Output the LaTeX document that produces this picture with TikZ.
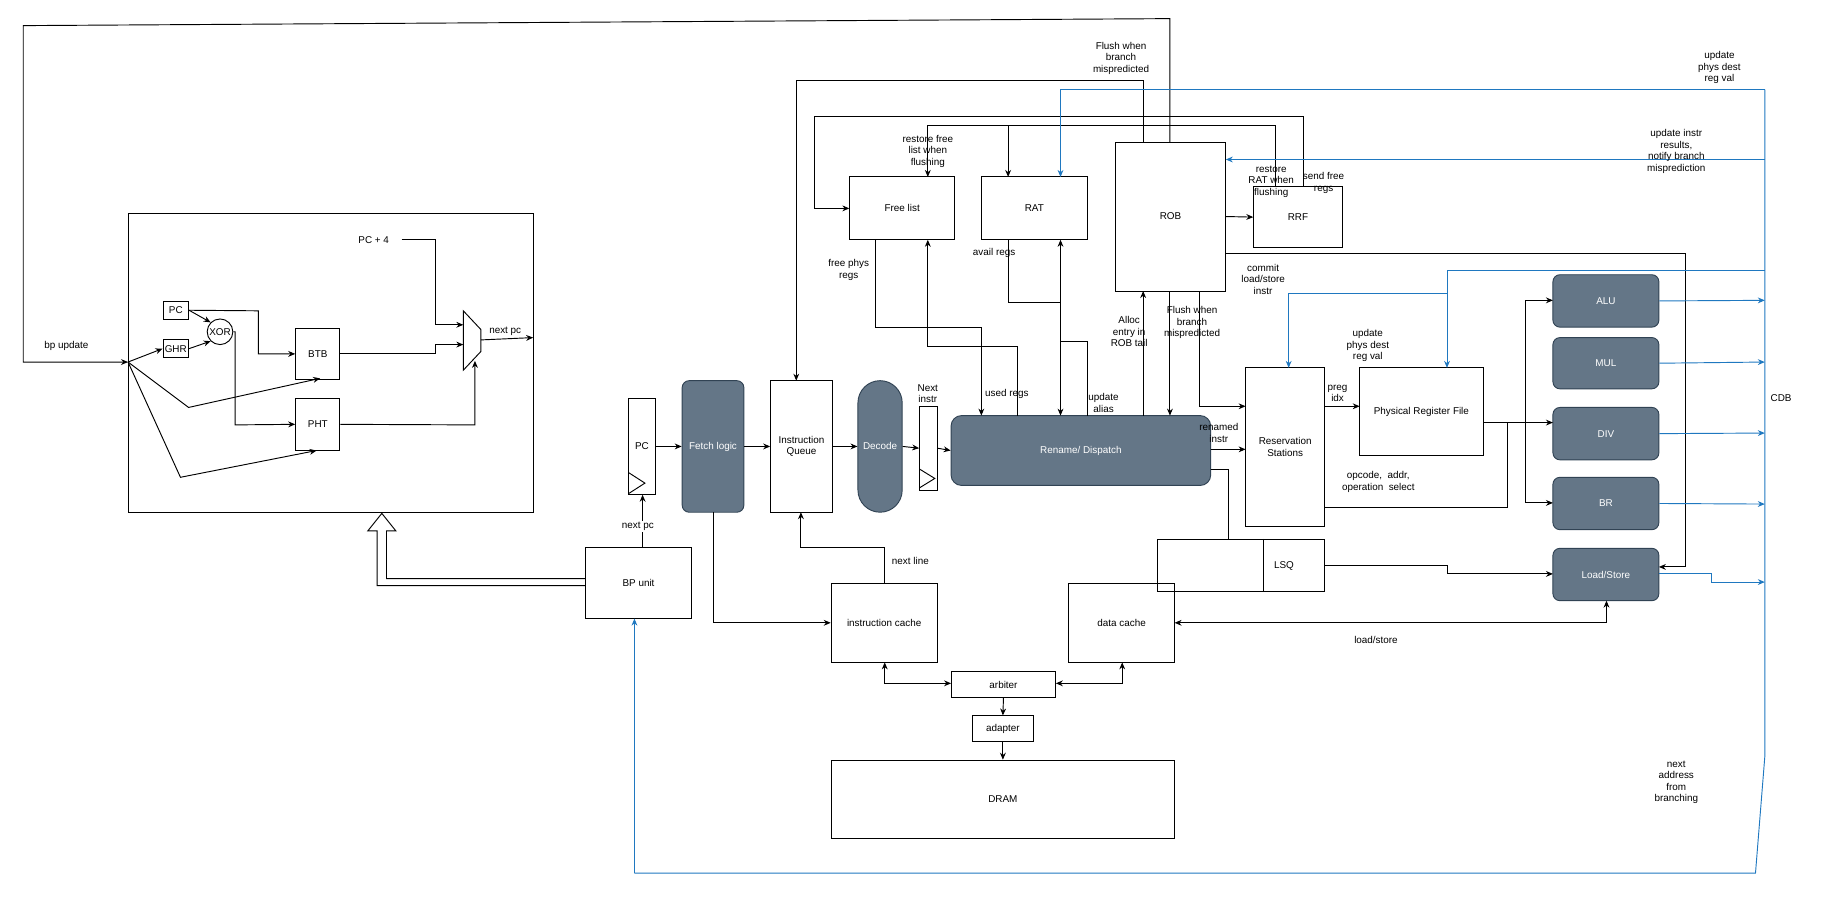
\documentclass[tikz,border=0pt]{standalone}
\usepackage{fontspec}
\setmainfont{Liberation Sans}
\usetikzlibrary{arrows.meta,calc}
\definecolor{dk}{HTML}{647687}
\definecolor{dkl}{HTML}{314354}
\definecolor{bl}{HTML}{1F78C0}
\tikzset{
  box/.style={draw,line width=0.8pt,inner sep=1pt,align=center,font=\fontsize{8.5}{10}\selectfont},
  dark/.style={fill=dk,draw=dkl,rounded corners=6pt,text=white},
  lbl/.style={align=center,font=\fontsize{8.5}{10}\selectfont,inner sep=1pt},
  ar/.style={-{Stealth[length=6pt,width=5pt]},line width=0.8pt},
  dar/.style={{Stealth[length=6pt,width=5pt]}-{Stealth[length=6pt,width=5pt]},line width=0.8pt},
  ln/.style={line width=0.8pt},
  bar/.style={ar,draw=bl},
  bln/.style={ln,draw=bl}
}
\newcommand\bx[7][]{\node[box,#1,minimum width={(#5-#3)*1pt},minimum height={(#6-#4)*1pt}] (#2) at ({(#3+#5)/2},{(#4+#6)/2}) {#7};}
\begin{document}
\begin{tikzpicture}[x=1pt,y=-1pt]
\useasboundingbox (0,0) rectangle (1566,787);
% BP box
\bx{bp}{110}{183}{458}{440}{}
\bx{pc0}{140}{259}{162}{274}{PC}
\bx{ghr}{140}{292}{162}{307}{GHR}
\node[draw,circle,ln,minimum size=22pt,inner sep=0pt,font=\fontsize{8.5}{10}\selectfont] (xor) at (189,285) {XOR};
\bx{btb}{254}{282}{292}{326}{BTB}
\bx{pht}{254}{342}{292}{387}{PHT}
\draw[ln] (398,267) coordinate (mA) -- (413,283) -- (413,302) coordinate (mO) -- (398,318) -- cycle;
\node[lbl] (pc4) at (321,206) {PC + 4};
\coordinate (bpin) at (110,311);
\draw[ar] (345,206) -- (374,206) -- (374,279) -- (398,279);
\draw[ar] (btb.east) -- (374,304) -- (374,296) -- (398,296);
\draw[ar] (pht.east) -- (408,365) -- (408,310);
\draw[ar] (413,292) -- (458,290);
\node[lbl] (npc) at (434,285) {next pc};
\draw[ar] (pc0.east) -- (xor.north west);
\draw[ar] (ghr.east) -- (xor.south west);
\draw[ar] (pc0.east) -- (222,267) -- (222,304) -- (btb.west);
\draw[ar] (xor.east) -- (202,285) -- (202,365) -- (pht.west);
\draw[ar] (bpin) -- (ghr.west);
\draw[ar] (bpin) -- (162,350) -- (275,325);
\draw[ar] (bpin) -- (155,410) -- (272,387);
% top feedback
\bx{rob}{958}{122}{1053}{250}{ROB}
\draw[ar] (1005,122) -- (1005,16) -- (20,22) -- (20,311) -- (bpin);
\node[lbl] (bpu) at (57,297) {bp update};
% front end
\bx{pcr}{540}{342}{563}{425}{PC}
\draw[ln] (540,406) -- (554,415) -- (540,424);
\bx[dark]{fetch}{586}{327}{639}{440}{Fetch logic}
\bx{iq}{662}{327}{715}{440}{Instruction\\Queue}
\bx[dark,rounded corners=19pt]{dec}{737}{327}{775}{440}{Decode}
\bx{preg}{790}{349}{805}{421}{}
\draw[ln] (790,403) -- (803,411) -- (790,419);
\node[lbl] (nin) at (797,338) {Next\\instr};
\bx[dark,rounded corners=9pt]{ren}{817}{357}{1040}{417}{Rename/ Dispatch}
\draw[ar] (pcr.east) -- (fetch.west);
\draw[ar] (fetch.east) -- (iq.west);
\draw[ar] (iq.east) -- (dec.west);
\draw[ar] (dec.east) -- (preg.west);
\draw[ar] (preg.east) -- (ren.west);
\bx{bpunit}{503}{470}{594}{531}{BP unit}
\draw[ar] (552,470) -- (552,425);
\node[lbl,fill=white] (npc2) at (548,452) {next pc};
\draw[ln] (503,497) -- (332,497) -- (332,456) -- (340,456) -- (328,441) -- (316,456) -- (324,456) -- (324,503) -- (503,503);
% memory
\bx{ic}{714}{501}{805}{569}{instruction cache}
\bx{dc}{918}{501}{1009}{569}{data cache}
\bx{arb}{817}{577}{907}{599}{arbiter}
\bx{adp}{835}{615}{888}{637}{adapter}
\bx{dram}{714}{653}{1009}{720}{DRAM}
\draw[ar] (613,440) -- (613,535) -- (ic.west);
\draw[ar] (760,501) -- (760,470) -- (688,470) -- (688,440);
\node[lbl] (nl) at (782,482) {next line};
\draw[dar] (760,569) -- (760,587) -- (817,587);
\draw[dar] (964,569) -- (964,587) -- (907,587);
\draw[ar] (arb.south) -- (adp.north);
\draw[ar] (adp.south) -- (dram.north);
% rename area
\bx{fl}{730}{152}{820}{206}{Free list}
\bx{rat}{843}{152}{934}{206}{RAT}
\bx{rrf}{1077}{160}{1153}{213}{RRF}
\draw[ar] (1053,186) -- (rrf.west);
\draw[ar] (982,122) -- (982,69) -- (684,69) -- (684,327);
\node[lbl] (f1) at (963,50) {Flush when\\branch\\mispredicted};
\draw[ar] (1120,160) -- (1120,100) -- (700,100) -- (700,179) -- (fl.west);
\node[lbl] (sfr) at (1137,157) {send free\\regs};
\draw[ar] (1096,160) -- (1096,108) -- (797,108) -- (797,152);
\draw[ar] (866,108) -- (866,152);
\node[lbl] (rrat) at (1092,156) {restore\\RAT when\\flushing};
\node[lbl] (rfl) at (797,130) {restore free\\list when\\flushing};
\draw[ar] (752,206) -- (752,281) -- (843,281) -- (843,357);
\node[lbl] (fpr) at (729,232) {free phys\\regs};
\draw[ar] (874,357) -- (874,298) -- (797,298) -- (797,206);
\node[lbl] (ur) at (865,338) {used regs};
\draw[ar] (866,206) -- (866,260) -- (911,260) -- (911,357);
\node[lbl] (avr) at (854,217) {avail regs};
\draw[ar] (934,357) -- (934,293) -- (911,293) -- (911,206);
\node[lbl] (ua) at (948,346) {update\\alias};
\draw[ar] (982,357) -- (982,250);
\node[lbl] (alc) at (970,285) {Alloc\\entry in\\ROB tail};
\draw[ar] (1005,250) -- (1005,357);
\bx{rs}{1070}{316}{1138}{452}{Reservation\\Stations}
\bx{prf}{1168}{316}{1274}{391}{Physical Register File}
\draw[ar] (1030,250) -- (1030,349) -- (1070,349);
\node[lbl] (f2) at (1024,277) {Flush when\\branch\\mispredicted};
\draw[ar] (1040,386) -- (1070,386);
\node[lbl] (rin) at (1047,372) {renamed\\instr};
\bx{lsq}{994}{463}{1138}{508}{}
\draw[ln] (1085,463) -- (1085,508);
\node[lbl] (lsqt) at (1103,486) {LSQ};
\draw[ln] (1040,403) -- (1055,403) -- (1055,463);
\draw[ar] (1138,349) -- (1168,349);
\node[lbl] (pix) at (1149,338) {preg\\idx};
% exec units
\bx[dark]{alu}{1334}{236}{1425}{281}{ALU}
\bx[dark]{mul}{1334}{290}{1425}{334}{MUL}
\bx[dark]{div}{1334}{350}{1425}{395}{DIV}
\bx[dark]{br}{1334}{410}{1425}{455}{BR}
\bx[dark]{ls}{1334}{471}{1425}{516}{Load/Store}
\draw[ar] (1274,363) -- (1334,363);
\draw[ar] (1310,363) -- (1310,258) -- (1334,258);
\draw[ar] (1310,363) -- (1310,432) -- (1334,432);
\draw[ln] (1138,436) -- (1295,436) -- (1295,363);
\node[lbl] (opc) at (1184,414) {opcode,\ \ addr,\\operation\ \ select};
\draw[ar] (1138,486) -- (1243,486) -- (1243,493) -- (1334,493);
\draw[dar] (1380,516) -- (1380,535) -- (1009,535);
\node[lbl] (lst) at (1182,550) {load/store};
\draw[ar] (1053,218) -- (1448,218) -- (1448,487) -- (1425,487);
\node[lbl] (cls) at (1085,240) {commit\\load/store\\instr};
% CDB
\draw[bln] (1516,77) -- (1516,650) -- (1508,750) -- (545,750);
\draw[bar] (545,750) -- (bpunit.south -| 545,531);
\node[lbl] (cdb) at (1530,342) {CDB};
\draw[bar] (alu.east) -- (1516,258);
\draw[bar] (mul.east) -- (1516,311);
\draw[bar] (div.east) -- (1516,372);
\draw[bar] (br.east) -- (1516,433);
\draw[bar] (1425,493) -- (1470,493) -- (1470,500) -- (1516,500);
\draw[bar] (1516,77) -- (911,77) -- (911,152);
\node[lbl] (u1) at (1477,58) {update\\phys dest\\reg val};
\draw[bar] (1516,137) -- (1053,137);
\node[lbl] (u2) at (1440,130) {update instr\\results,\\notify branch\\misprediction};
\draw[bar] (1516,232) -- (1243,232) -- (1243,316);
\draw[bar] (1243,252) -- (1107,252) -- (1107,316);
\node[lbl] (u3) at (1175,297) {update\\phys dest\\reg val};
\node[lbl] (nab) at (1440,672) {next\\address\\from\\branching};
\end{tikzpicture}
\end{document}
